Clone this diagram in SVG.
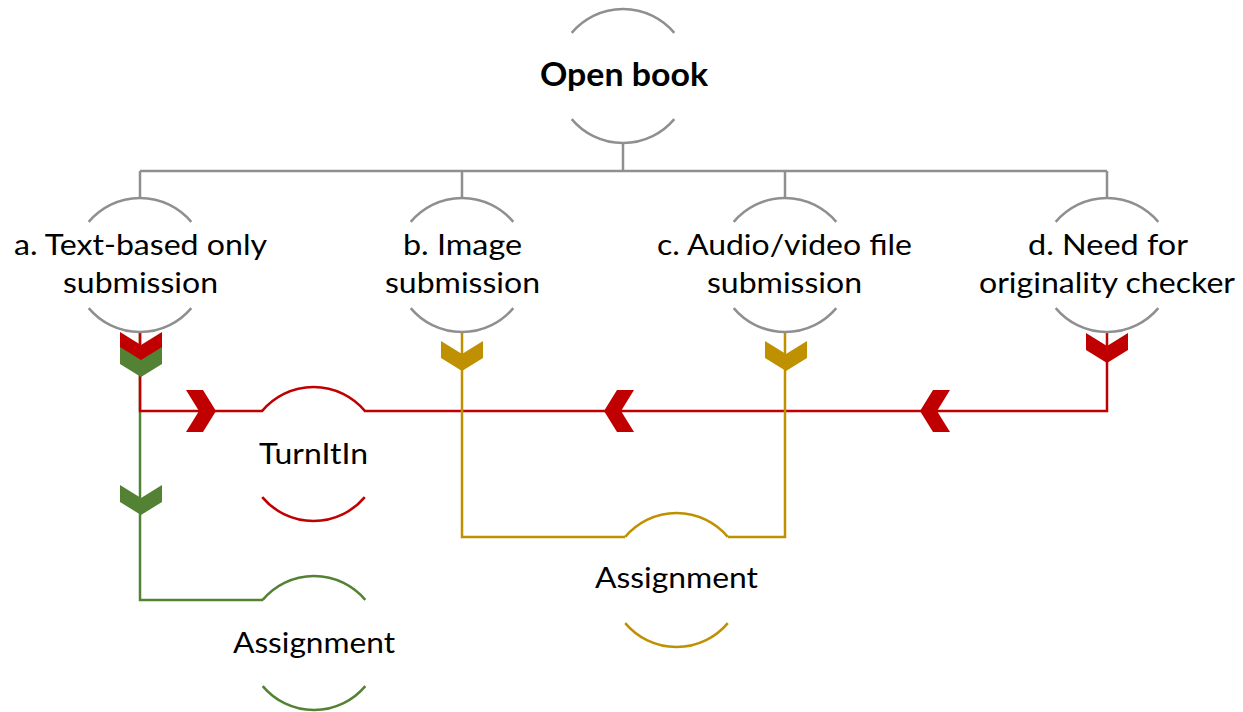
<svg xmlns="http://www.w3.org/2000/svg" width="1243" height="712" viewBox="0 0 1243 712">
<style>
text{font-family:Lato,"Open Sans","Liberation Sans",sans-serif;font-size:29px;fill:#000;text-anchor:middle}
.b{font-weight:bold;font-size:32px}
.arc{fill:none;stroke-width:2.5}
.grey{stroke:#8f8f8f}
.red{stroke:#c00000}
.green{stroke:#548235}
.gold{stroke:#bf9000}
.ln{fill:none;stroke-width:2.5}
</style>
<defs>
<path id="chev" d="M0,-21 H17 L30,0 L17,21 H0 L13,0 Z"/>
</defs>
<rect width="1243" height="712" fill="#fff"/>
<g id="connectors">
<path class="ln grey" d="M623,143 V171 M140,171 H1107 M140,171 V198 M462,171 V198 M785,171 V198 M1107,171 V198"/>
<path class="ln green" d="M140,332 V600 H263"/>
<path class="ln red" stroke-width="2" d="M140,332 V411 H263 M1107,332 V411 H364"/>
<path class="ln gold" d="M462,332 V537 H625 M785,332 V537 H728"/>
<use href="#chev" fill="#c00000" transform="translate(141,332) rotate(90)"/>
<use href="#chev" fill="#548235" transform="translate(141,347) rotate(90)"/>
<use href="#chev" fill="#548235" transform="translate(141,485) rotate(90)"/>
<use href="#chev" fill="#bf9000" transform="translate(462,341) rotate(90)"/>
<use href="#chev" fill="#bf9000" transform="translate(786,341) rotate(90)"/>
<use href="#chev" fill="#c00000" transform="translate(1107,333) rotate(90)"/>
<use href="#chev" fill="#c00000" transform="translate(186,411)"/>
<use href="#chev" fill="#c00000" transform="translate(634,411) rotate(180)"/>
<use href="#chev" fill="#c00000" transform="translate(950,411) rotate(180)"/>
</g>
<g id="open-book">
<path class="arc grey" d="M571.7,32.9 A67,67 0 0 1 674.3,32.9 M571.7,119.1 A67,67 0 0 0 674.3,119.1"/>
<text class="b" x="624" y="86" textLength="168" lengthAdjust="spacingAndGlyphs">Open book</text>
</g>
<g id="node-a">
<path class="arc grey" d="M88.7,221.9 A67,67 0 0 1 191.3,221.9 M88.7,308.1 A67,67 0 0 0 191.3,308.1"/>
<text x="140.5" y="255" textLength="253" lengthAdjust="spacingAndGlyphs">a. Text-based only</text>
<text x="140.5" y="293" textLength="155" lengthAdjust="spacingAndGlyphs">submission</text>
</g>
<g id="node-b">
<path class="arc grey" d="M410.7,221.9 A67,67 0 0 1 513.3,221.9 M410.7,308.1 A67,67 0 0 0 513.3,308.1"/>
<text x="462.5" y="255" textLength="119" lengthAdjust="spacingAndGlyphs">b. Image</text>
<text x="462.5" y="293" textLength="155" lengthAdjust="spacingAndGlyphs">submission</text>
</g>
<g id="node-c">
<path class="arc grey" d="M733.7,221.9 A67,67 0 0 1 836.3,221.9 M733.7,308.1 A67,67 0 0 0 836.3,308.1"/>
<text x="784.5" y="255" textLength="255" lengthAdjust="spacingAndGlyphs">c. Audio/video file</text>
<text x="784.5" y="293" textLength="155" lengthAdjust="spacingAndGlyphs">submission</text>
</g>
<g id="node-d">
<path class="arc grey" d="M1055.7,221.9 A67,67 0 0 1 1158.3,221.9 M1055.7,308.1 A67,67 0 0 0 1158.3,308.1"/>
<text x="1108" y="255" textLength="160" lengthAdjust="spacingAndGlyphs">d. Need for</text>
<text x="1107" y="293" textLength="256" lengthAdjust="spacingAndGlyphs">originality checker</text>
</g>
<g id="turnitin">
<path class="arc red" d="M262.2,410.9 A67,67 0 0 1 364.8,410.9 M262.2,497.1 A67,67 0 0 0 364.8,497.1"/>
<text x="313.5" y="464" textLength="109" lengthAdjust="spacingAndGlyphs">TurnItIn</text>
</g>
<g id="assignment-green">
<path class="arc green" d="M262.7,599.9 A67,67 0 0 1 365.3,599.9 M262.7,686.1 A67,67 0 0 0 365.3,686.1"/>
<text x="314" y="653" textLength="162" lengthAdjust="spacingAndGlyphs">Assignment</text>
</g>
<g id="assignment-gold">
<path class="arc gold" d="M625.2,536.9 A67,67 0 0 1 727.8,536.9 M625.2,623.1 A67,67 0 0 0 727.8,623.1"/>
<text x="676.5" y="588" textLength="163" lengthAdjust="spacingAndGlyphs">Assignment</text>
</g>
</svg>
